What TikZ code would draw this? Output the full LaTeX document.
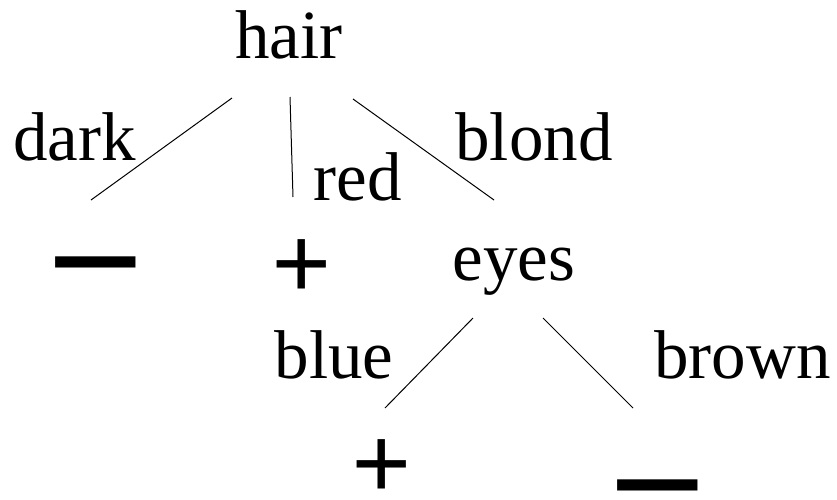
\documentclass[tikz,border=0pt]{standalone}
\usepackage{fontspec}
\setmainfont{Liberation Serif}
\newcommand{\bigminus}{\raisebox{-56.5pt}[7pt][7pt]{−}}
\begin{document}
\begin{tikzpicture}[x=1pt,y=-1pt,
  lbl/.style={inner sep=0pt,anchor=base,font=\fontsize{69}{80}\selectfont},
  plussym/.style={inner sep=0pt,anchor=base,font=\fontsize{106}{110}\selectfont\bfseries},
  minussym/.style={inner sep=0pt,anchor=base,xscale=1.08,font=\fontsize{160}{170}\selectfont\bfseries},
  branch/.style={line width=1pt}]
\useasboundingbox (0,0) rectangle (837,499);
% labels
\node[lbl] (hair) at (289,58) {hair};
\node[lbl] (dark) at (74.5,160) {dark};
\node[lbl] (red) at (357.5,200) {red};
\node[lbl] (blond) at (534,160) {blond};
\node[lbl] (eyes) at (514,280) {eyes};
\node[lbl] (blue) at (334,378) {blue};
\node[lbl] (brown) at (742.5,378) {brown};
\node[minussym] (neg1) at (95.5,258.5) {\bigminus};
\node[plussym] (pos1) at (301.5,299) {+};
\node[plussym] (pos2) at (382,499) {+};
\node[minussym] (neg2) at (657.5,481.5) {\bigminus};
% branch ends
\coordinate (hairL) at (232,98);
\coordinate (hairM) at (290,97);
\coordinate (hairR) at (353,99);
\coordinate (negTop) at (91,200);
\coordinate (posTop) at (293,197);
\coordinate (eyesTop) at (494,200);
\coordinate (eyesL) at (473,318);
\coordinate (eyesR) at (543,318);
\coordinate (posBot) at (385,408);
\coordinate (negBot) at (633,408);
\draw[branch] (hairL) -- (negTop);
\draw[branch] (hairM) -- (posTop);
\draw[branch] (hairR) -- (eyesTop);
\draw[branch] (eyesL) -- (posBot);
\draw[branch] (eyesR) -- (negBot);
\end{tikzpicture}
\end{document}
